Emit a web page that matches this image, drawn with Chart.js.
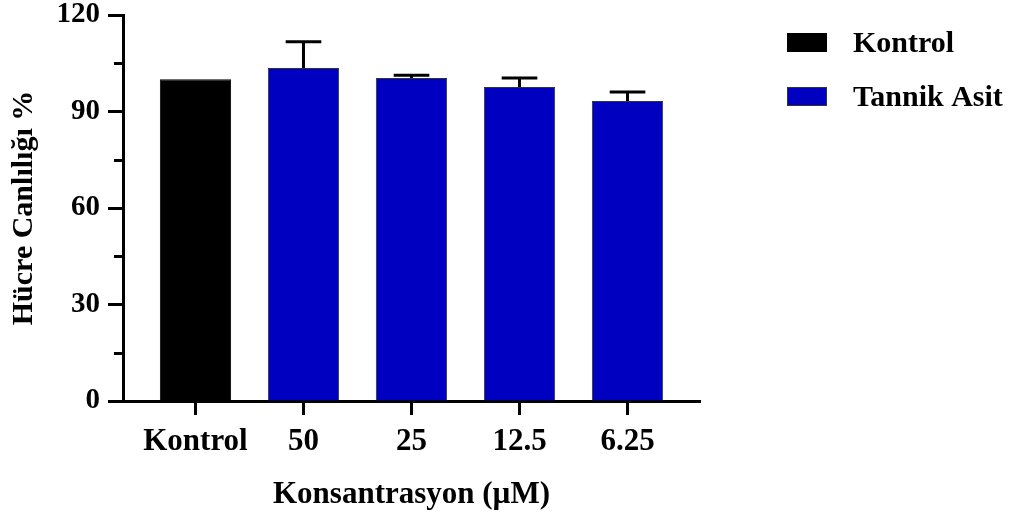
<!DOCTYPE html>
<html>
<head>
<meta charset="utf-8">
<script src="https://cdn.jsdelivr.net/npm/chart.js@4/dist/chart.umd.min.js"></script>
<style>
  html, body { margin: 0; padding: 0; background: #ffffff; }
  #wrap { width: 1009px; height: 513px; }
</style>
</head>
<body>
<div id="wrap"><canvas id="chart" width="1009" height="513"></canvas></div>
<script>
// Cell viability (%) per concentration
const categories = ['Kontrol', '50', '25', '12.5', '6.25'];
const seriesNames = ['Kontrol', 'Tannik Asit'];
const kontrolValues = [100];
const tannikValues = [103.5, 100.4, 97.6, 93.3];
const tannikErrors = [8.2, 0.9, 2.8, 2.8];
const yMajorTicks = [0, 30, 60, 90, 120];
const yMinorTicks = [15, 45, 75, 105];

const FONT = "'Liberation Serif', 'Times New Roman', serif";
const BLACK = '#000000';
const BLUE = '#0000c0';
const BAR_EDGE = '#333333';

// upward error bars with caps for the treated series
const errorBars = {
  id: 'errorBars',
  afterDatasetsDraw(chart) {
    const ctx = chart.ctx;
    const y = chart.scales.y;
    const meta = chart.getDatasetMeta(1);
    ctx.save();
    ctx.strokeStyle = BLACK;
    ctx.lineWidth = 3;
    meta.data.forEach((bar, i) => {
      const top = y.getPixelForValue(tannikValues[i] + tannikErrors[i]);
      const half = bar.width * 0.25;
      ctx.beginPath();
      ctx.moveTo(bar.x, bar.y);
      ctx.lineTo(bar.x, top);
      ctx.moveTo(bar.x - half, top);
      ctx.lineTo(bar.x + half, top);
      ctx.stroke();
    });
    ctx.restore();
  }
};

// short minor ticks on the value axis
const minorTicks = {
  id: 'minorTicks',
  afterDraw(chart) {
    const ctx = chart.ctx;
    const y = chart.scales.y;
    const x0 = chart.chartArea.left;
    ctx.save();
    ctx.strokeStyle = BLACK;
    ctx.lineWidth = 3;
    yMinorTicks.forEach(v => {
      const py = Math.round(y.getPixelForValue(v)) + 0.5;
      ctx.beginPath();
      ctx.moveTo(x0 - 9, py);
      ctx.lineTo(x0, py);
      ctx.stroke();
    });
    ctx.restore();
  }
};

// series key at the upper right: swatch followed by the series name
const seriesKey = {
  id: 'seriesKey',
  afterDraw(chart) {
    const ctx = chart.ctx;
    const left = chart.chartArea.right + 87;
    const fills = [BLACK, BLUE];
    const edges = [BLACK, BAR_EDGE];
    ctx.save();
    ctx.font = `bold 30px ${FONT}`;
    ctx.textBaseline = 'alphabetic';
    ctx.textAlign = 'left';
    seriesNames.forEach((name, i) => {
      const top = 33 + i * 54;
      ctx.fillStyle = fills[i];
      ctx.fillRect(left, top, 40, 19);
      ctx.strokeStyle = edges[i];
      ctx.lineWidth = 1;
      ctx.strokeRect(left + 0.5, top + 0.5, 39, 18);
      ctx.fillStyle = BLACK;
      ctx.fillText(name, left + 66, top + 19);
    });
    ctx.restore();
  }
};

new Chart(document.getElementById('chart'), {
  type: 'bar',
  data: {
    datasets: [
      {
        label: seriesNames[0],
        data: kontrolValues.map((v, i) => ({ x: i, y: v })),
        backgroundColor: BLACK,
        borderColor: BLACK,
        borderWidth: 1
      },
      {
        label: seriesNames[1],
        data: tannikValues.map((v, i) => ({ x: i + kontrolValues.length, y: v })),
        backgroundColor: BLUE,
        borderColor: BAR_EDGE,
        borderWidth: 1
      }
    ]
  },
  options: {
    responsive: false,
    animation: false,
    devicePixelRatio: 1,
    grouped: false,
    barPercentage: 0.66,
    categoryPercentage: 1,
    layout: { padding: { left: 0, top: 15, right: 309, bottom: 0 } },
    plugins: {
      tooltip: { enabled: false },
      legend: { display: false }
    },
    scales: {
      x: {
        type: 'linear',
        min: -0.671,
        max: categories.length - 1 + 0.671,
        offset: false,
        afterBuildTicks: s => { s.ticks = categories.map((c, i) => ({ value: i })); },
        afterFit: s => { s.height = 112; s.paddingLeft = 0; s.paddingRight = 0; },
        grid: {
          display: true,
          drawOnChartArea: false,
          offset: false,
          tickLength: 14,
          tickWidth: 3,
          tickColor: BLACK
        },
        border: { display: true, width: 3, color: BLACK },
        ticks: {
          color: BLACK,
          padding: 8,
          maxRotation: 0,
          autoSkip: false,
          font: { family: FONT, size: 31, weight: 'bold' },
          callback: v => categories[v]
        },
        title: {
          display: true,
          text: 'Konsantrasyon (\u00b5M)',
          color: BLACK,
          padding: { top: 0, bottom: -1 },
          font: { family: FONT, size: 31, weight: 'bold' }
        }
      },
      y: {
        min: 0,
        max: 120,
        afterBuildTicks: s => { s.ticks = yMajorTicks.map(v => ({ value: v })); },
        afterFit: s => { s.width = 123; s.paddingTop = 0; s.paddingBottom = 0; },
        grid: {
          display: true,
          drawOnChartArea: false,
          tickLength: 15,
          tickWidth: 3,
          tickColor: BLACK
        },
        border: { display: true, width: 3, color: BLACK },
        ticks: {
          color: BLACK,
          padding: 8,
          font: { family: FONT, size: 29, weight: 'bold', lineHeight: 1.05 }
        },
        title: {
          display: true,
          text: 'Hücre Canlılığı %',
          color: BLACK,
          padding: { top: 6, bottom: 0 },
          font: { family: FONT, size: 30, weight: 'bold' }
        }
      }
    }
  },
  plugins: [errorBars, minorTicks, seriesKey]
});
</script>
</body>
</html>
